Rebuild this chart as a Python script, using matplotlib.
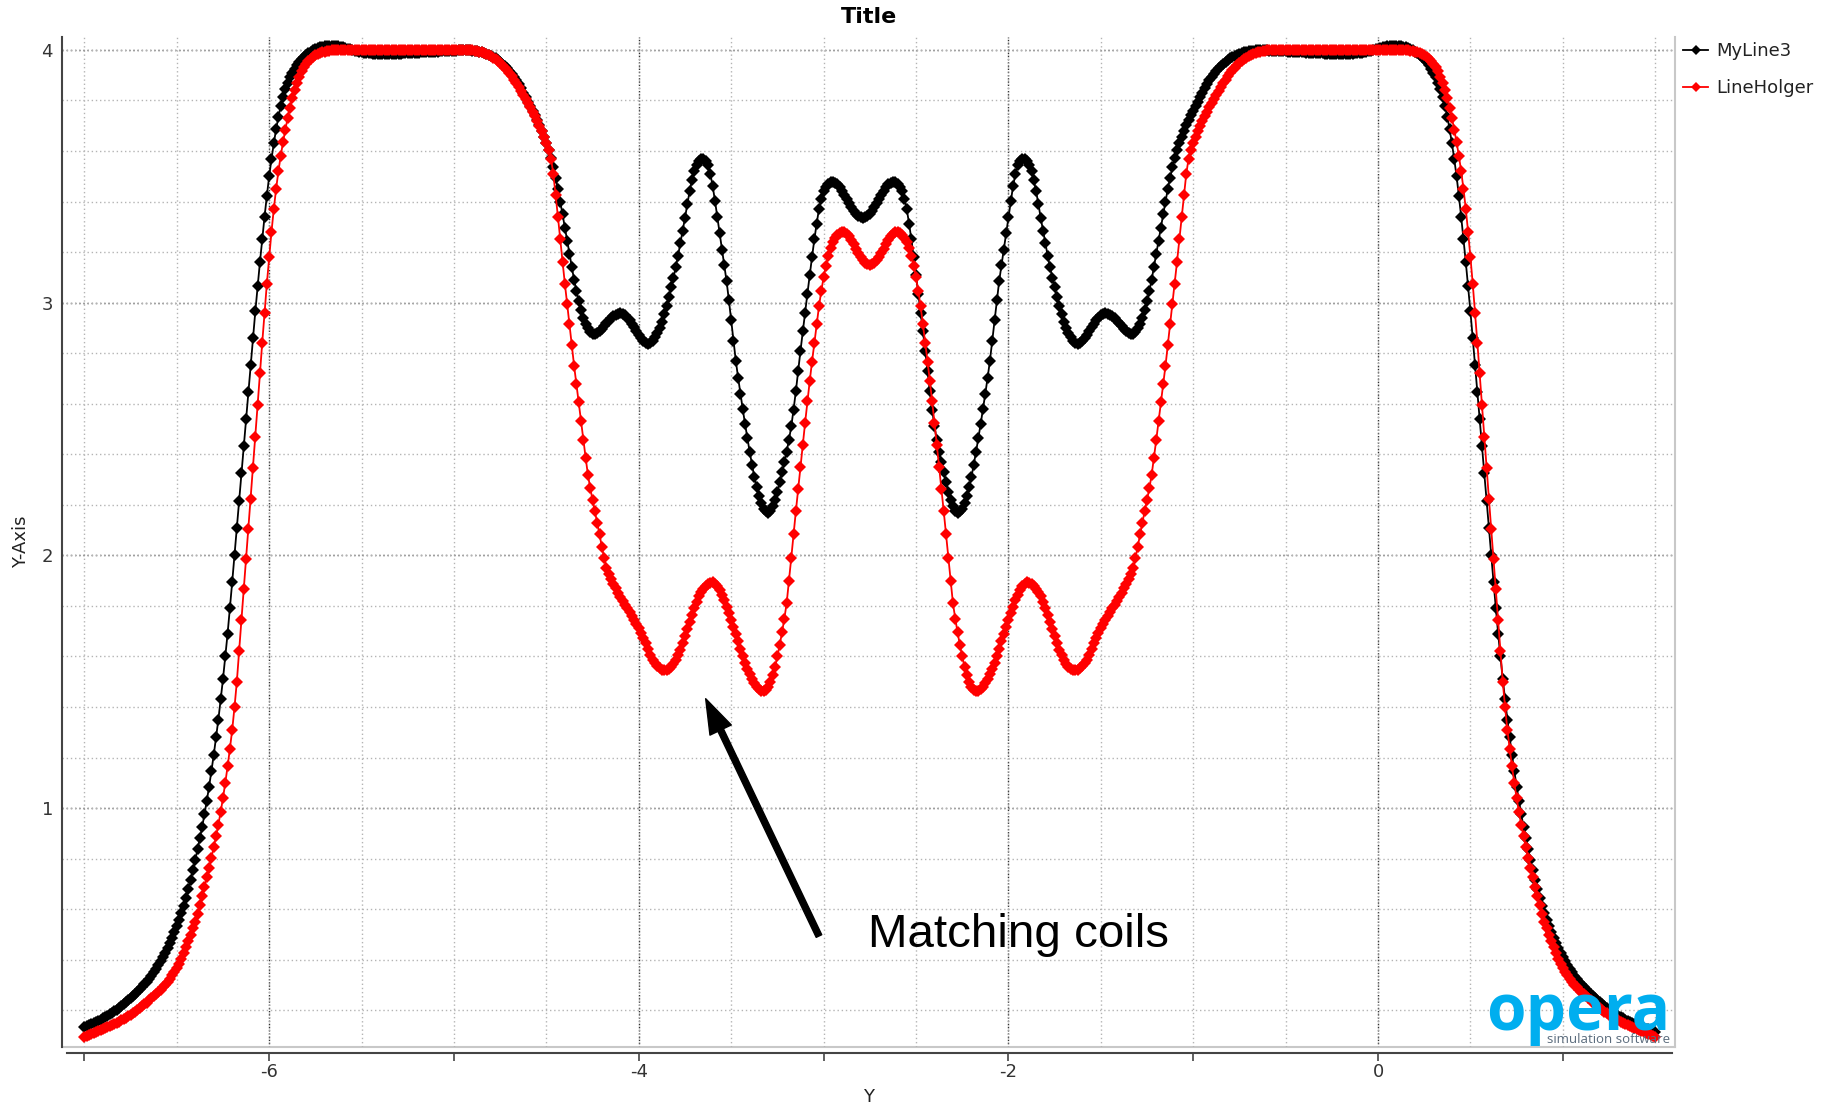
import numpy as np
import matplotlib
matplotlib.use("Agg")
import matplotlib.pyplot as plt
from matplotlib.ticker import MultipleLocator
from matplotlib.lines import Line2D

# Field profile along Y, sampled every 0.0125 starting at Y = -7.0
X_START = -7.0
X_STEP = 0.0125

my_line3 = [
    0.134, 0.137, 0.141, 0.145, 0.149, 0.153, 0.158, 0.163, 0.168, 0.173,
    0.178, 0.184, 0.190, 0.196, 0.203, 0.210, 0.217, 0.224, 0.232, 0.240,
    0.248, 0.256, 0.265, 0.274, 0.283, 0.293, 0.303, 0.314, 0.325, 0.337,
    0.350, 0.364, 0.378, 0.394, 0.410, 0.428, 0.446, 0.466, 0.487, 0.510,
    0.533, 0.559, 0.585, 0.614, 0.643, 0.679, 0.715, 0.755, 0.795, 0.837,
    0.880, 0.927, 0.975, 1.030, 1.085, 1.147, 1.210, 1.280, 1.350, 1.430,
    1.510, 1.600, 1.690, 1.792, 1.895, 2.002, 2.110, 2.217, 2.325, 2.432,
    2.540, 2.647, 2.755, 2.860, 2.965, 3.064, 3.160, 3.252, 3.340, 3.423,
    3.500, 3.568, 3.630, 3.686, 3.735, 3.778, 3.815, 3.845, 3.870, 3.892,
    3.910, 3.926, 3.940, 3.952, 3.962, 3.972, 3.980, 3.987, 3.993, 3.998,
    4.003, 4.007, 4.010, 4.012, 4.014, 4.015, 4.016, 4.016, 4.016, 4.015,
    4.014, 4.012, 4.010, 4.007, 4.005, 4.002, 4.000, 3.997, 3.995, 3.993,
    3.991, 3.989, 3.988, 3.987, 3.986, 3.985, 3.984, 3.983, 3.983, 3.983,
    3.983, 3.983, 3.983, 3.983, 3.984, 3.984, 3.985, 3.985, 3.986, 3.986,
    3.987, 3.987, 3.988, 3.988, 3.989, 3.989, 3.990, 3.990, 3.991, 3.991,
    3.992, 3.992, 3.993, 3.993, 3.994, 3.994, 3.995, 3.995, 3.996, 3.996,
    3.997, 3.997, 3.998, 3.998, 3.998, 3.998, 3.998, 3.998, 3.997, 3.996,
    3.995, 3.993, 3.991, 3.988, 3.985, 3.981, 3.977, 3.972, 3.967, 3.961,
    3.954, 3.946, 3.938, 3.928, 3.918, 3.906, 3.894, 3.880, 3.865, 3.848,
    3.830, 3.813, 3.795, 3.778, 3.760, 3.741, 3.722, 3.701, 3.680, 3.657,
    3.632, 3.603, 3.572, 3.535, 3.495, 3.449, 3.400, 3.349, 3.297, 3.245,
    3.192, 3.141, 3.090, 3.046, 3.005, 2.970, 2.940, 2.917, 2.898, 2.885,
    2.876, 2.876, 2.880, 2.887, 2.896, 2.907, 2.918, 2.928, 2.938, 2.946,
    2.952, 2.956, 2.958, 2.956, 2.950, 2.941, 2.930, 2.917, 2.902, 2.887,
    2.872, 2.859, 2.848, 2.841, 2.838, 2.841, 2.850, 2.863, 2.880, 2.901,
    2.925, 2.954, 2.985, 3.021, 3.060, 3.099, 3.140, 3.186, 3.235, 3.284,
    3.335, 3.389, 3.440, 3.484, 3.520, 3.543, 3.560, 3.568, 3.570, 3.562,
    3.545, 3.508, 3.460, 3.402, 3.340, 3.275, 3.210, 3.148, 3.085, 3.010,
    2.930, 2.849, 2.770, 2.703, 2.640, 2.579, 2.520, 2.464, 2.410, 2.359,
    2.310, 2.270, 2.235, 2.208, 2.185, 2.174, 2.168, 2.177, 2.195, 2.220,
    2.250, 2.289, 2.330, 2.370, 2.410, 2.457, 2.510, 2.577, 2.650, 2.730,
    2.810, 2.886, 2.960, 3.036, 3.110, 3.181, 3.250, 3.313, 3.370, 3.410,
    3.440, 3.458, 3.470, 3.476, 3.479, 3.475, 3.468, 3.456, 3.442, 3.426,
    3.410, 3.394, 3.378, 3.364, 3.352, 3.344, 3.338,
    3.336,
    3.338, 3.344, 3.352, 3.364, 3.378, 3.394, 3.410, 3.426, 3.442, 3.456,
    3.468, 3.475, 3.479, 3.476, 3.470, 3.458, 3.440,
    3.410, 3.370, 3.313, 3.250, 3.181, 3.110, 3.036, 2.960, 2.886, 2.810,
    2.730, 2.650, 2.577, 2.510, 2.457, 2.410, 2.370, 2.330, 2.289, 2.250,
    2.220, 2.195, 2.177, 2.168, 2.174, 2.185, 2.208, 2.235, 2.270, 2.310,
    2.359, 2.410, 2.464, 2.520, 2.579, 2.640, 2.703, 2.770, 2.849, 2.930,
    3.010, 3.085, 3.148, 3.210, 3.275, 3.340, 3.402, 3.460, 3.508, 3.545,
    3.562, 3.570, 3.568, 3.560, 3.543, 3.520, 3.484, 3.440, 3.389, 3.335,
    3.284, 3.235, 3.186, 3.140, 3.099, 3.060, 3.021, 2.985, 2.954, 2.925,
    2.901, 2.880, 2.863, 2.850, 2.841, 2.838, 2.841, 2.848, 2.859, 2.872,
    2.887, 2.902, 2.917, 2.930, 2.941, 2.950, 2.956, 2.958, 2.956, 2.952,
    2.946, 2.938, 2.928, 2.918, 2.907, 2.896, 2.887, 2.880, 2.876, 2.876,
    2.885, 2.898, 2.917, 2.940, 2.970, 3.005, 3.046, 3.090, 3.141, 3.192,
    3.245, 3.297, 3.349, 3.400, 3.449, 3.495, 3.535, 3.572, 3.603, 3.632,
    3.657, 3.680, 3.701, 3.722, 3.741, 3.760, 3.778, 3.795, 3.813, 3.830,
    3.848, 3.865, 3.880, 3.894, 3.906, 3.918, 3.928, 3.938, 3.946, 3.954,
    3.961, 3.967, 3.972, 3.977, 3.981, 3.985, 3.988, 3.991, 3.993, 3.995,
    3.996, 3.997, 3.998, 3.998, 3.998, 3.998, 3.998, 3.998, 3.997, 3.997,
    3.996, 3.996, 3.995, 3.995, 3.994, 3.994, 3.993, 3.993, 3.992, 3.992,
    3.991, 3.991, 3.990, 3.990, 3.989, 3.989, 3.988, 3.988, 3.987, 3.987,
    3.986, 3.986, 3.985, 3.985, 3.984, 3.984, 3.983, 3.983, 3.983, 3.983,
    3.983, 3.983, 3.983, 3.984, 3.985, 3.986, 3.987, 3.988, 3.989, 3.991,
    3.993, 3.995, 3.997, 4.000, 4.002, 4.005, 4.007, 4.010, 4.012, 4.014,
    4.015, 4.016, 4.016, 4.016, 4.015, 4.014, 4.012, 4.010, 4.007, 4.003,
    3.998, 3.993, 3.987, 3.980, 3.972, 3.962, 3.952, 3.940, 3.926, 3.910,
    3.892, 3.870, 3.845, 3.815, 3.778, 3.735, 3.686, 3.630, 3.568, 3.500,
    3.423, 3.340, 3.252, 3.160, 3.064, 2.965, 2.860, 2.755, 2.647, 2.540,
    2.432, 2.325, 2.217, 2.110, 2.002, 1.895, 1.792, 1.690, 1.600, 1.510,
    1.430, 1.350, 1.280, 1.210, 1.147, 1.085, 1.030, 0.975, 0.927, 0.880,
    0.837, 0.795, 0.755, 0.715, 0.679, 0.643, 0.614, 0.585, 0.559, 0.533,
    0.510, 0.487, 0.466, 0.446, 0.428, 0.410, 0.394, 0.378, 0.364, 0.350,
    0.337, 0.325, 0.314, 0.303, 0.293, 0.283, 0.274, 0.265, 0.256, 0.248,
    0.240, 0.232, 0.224, 0.217, 0.210, 0.203, 0.196, 0.190, 0.184, 0.178,
    0.173, 0.168, 0.163, 0.158, 0.153, 0.149, 0.145, 0.141, 0.137, 0.134,
    0.131, 0.128, 0.125, 0.122, 0.119, 0.116,
]

line_holger = [
    0.094, 0.098, 0.102, 0.106, 0.110, 0.114, 0.118, 0.122, 0.126, 0.130,
    0.134, 0.138, 0.142, 0.146, 0.150, 0.155, 0.160, 0.165, 0.170, 0.176,
    0.182, 0.188, 0.195, 0.202, 0.209, 0.216, 0.224, 0.231, 0.239, 0.247,
    0.255, 0.263, 0.272, 0.281, 0.291, 0.301, 0.312, 0.324, 0.338, 0.352,
    0.368, 0.385, 0.405, 0.427, 0.450, 0.475, 0.500, 0.524, 0.550, 0.581,
    0.615, 0.652, 0.690, 0.727, 0.765, 0.804, 0.845, 0.888, 0.935, 0.985,
    1.040, 1.100, 1.165, 1.235, 1.310, 1.400, 1.500, 1.620, 1.745, 1.866,
    1.985, 2.105, 2.225, 2.346, 2.470, 2.595, 2.720, 2.842, 2.960, 3.075,
    3.180, 3.280, 3.370, 3.450, 3.520, 3.581, 3.635, 3.685, 3.730, 3.772,
    3.810, 3.842, 3.870, 3.894, 3.915, 3.931, 3.945, 3.956, 3.965, 3.972,
    3.978, 3.983, 3.987, 3.990, 3.993, 3.995, 3.997, 3.998, 3.999, 4.000,
    4.000, 4.000, 4.000, 4.000, 4.000, 4.000, 4.000, 3.999, 3.999, 3.999,
    3.999, 3.999, 3.999, 3.998, 3.998, 3.998, 3.998, 3.998, 3.998, 3.998,
    3.998, 3.998, 3.998, 3.998, 3.998, 3.998, 3.998, 3.998, 3.998, 3.998,
    3.998, 3.998, 3.998, 3.998, 3.999, 3.999, 3.999, 3.999, 3.999, 3.999,
    3.999, 3.999, 3.999, 3.999, 4.000, 4.000, 4.000, 4.000, 4.000, 4.000,
    4.000, 4.000, 4.000, 4.000, 4.000, 4.000, 3.999, 3.999, 3.998, 3.997,
    3.995, 3.993, 3.990, 3.987, 3.983, 3.979, 3.974, 3.968, 3.962, 3.955,
    3.948, 3.939, 3.930, 3.919, 3.908, 3.895, 3.882, 3.869, 3.855, 3.839,
    3.822, 3.806, 3.790, 3.773, 3.756, 3.738, 3.720, 3.700, 3.678, 3.655,
    3.630, 3.603, 3.570, 3.510, 3.425, 3.340, 3.250, 3.162, 3.075, 2.995,
    2.915, 2.832, 2.750, 2.677, 2.605, 2.531, 2.457, 2.386, 2.318, 2.265,
    2.220, 2.174, 2.130, 2.083, 2.035, 1.990, 1.950, 1.926, 1.905, 1.887,
    1.870, 1.852, 1.835, 1.820, 1.805, 1.790, 1.775, 1.760, 1.745, 1.729,
    1.712, 1.694, 1.675, 1.652, 1.628, 1.607, 1.588, 1.574, 1.562, 1.554,
    1.547, 1.545, 1.545, 1.550, 1.558, 1.570, 1.585, 1.604, 1.625, 1.653,
    1.682, 1.710, 1.737, 1.764, 1.790, 1.815, 1.838, 1.855, 1.868, 1.879,
    1.888, 1.892, 1.893, 1.887, 1.878, 1.863, 1.845, 1.822, 1.797, 1.771,
    1.745, 1.718, 1.690, 1.660, 1.630, 1.602, 1.575, 1.551, 1.530, 1.511,
    1.495, 1.481, 1.470, 1.465, 1.463, 1.469, 1.480, 1.500, 1.525, 1.560,
    1.600, 1.646, 1.695, 1.750, 1.810, 1.898, 1.990, 2.083, 2.175, 2.263,
    2.350, 2.438, 2.525, 2.609, 2.690, 2.767, 2.840, 2.914, 2.985, 3.046,
    3.100, 3.146, 3.185, 3.215, 3.240, 3.256, 3.268, 3.276, 3.280, 3.278,
    3.272, 3.262, 3.248, 3.231, 3.212, 3.196, 3.180, 3.168, 3.158, 3.153,
    3.150,
    3.153, 3.158, 3.168, 3.180, 3.196, 3.212, 3.231, 3.248, 3.262, 3.272,
    3.278, 3.280, 3.276, 3.268, 3.256, 3.240, 3.215, 3.185, 3.146, 3.100,
    3.046, 2.985, 2.914, 2.840, 2.767, 2.690, 2.609, 2.525, 2.438, 2.350,
    2.263, 2.175, 2.083, 1.990, 1.898, 1.810, 1.750, 1.695, 1.646, 1.600,
    1.560, 1.525, 1.500, 1.480, 1.469, 1.463, 1.465, 1.470, 1.481, 1.495,
    1.511, 1.530, 1.551, 1.575, 1.602, 1.630, 1.660, 1.690, 1.718, 1.745,
    1.771, 1.797, 1.822, 1.845, 1.863, 1.878, 1.887, 1.893, 1.892, 1.888,
    1.879, 1.868, 1.855, 1.838, 1.815, 1.790, 1.764, 1.737, 1.710, 1.682,
    1.653, 1.625, 1.604, 1.585, 1.570, 1.558, 1.550, 1.545, 1.545, 1.547,
    1.554, 1.562, 1.574, 1.588, 1.607, 1.628, 1.652, 1.675, 1.694, 1.712,
    1.729, 1.745, 1.760, 1.775, 1.790, 1.805, 1.820, 1.835, 1.852, 1.870,
    1.887, 1.905, 1.926, 1.950, 1.990, 2.035, 2.083, 2.130, 2.174, 2.220,
    2.265, 2.318, 2.386, 2.457, 2.531, 2.605, 2.677, 2.750, 2.832, 2.915,
    2.995, 3.075, 3.162, 3.250, 3.340, 3.425, 3.510, 3.570, 3.603, 3.630,
    3.655, 3.678, 3.700, 3.720, 3.738, 3.756, 3.773, 3.790, 3.806, 3.822,
    3.839, 3.855, 3.869, 3.882, 3.895, 3.908, 3.919, 3.930, 3.939, 3.948,
    3.955, 3.962, 3.968, 3.974, 3.979, 3.983, 3.987, 3.990, 3.993, 3.995,
    3.997, 3.998, 3.999, 3.999, 4.000, 4.000, 4.000, 4.000, 4.000, 4.000,
    4.000, 4.000, 4.000, 4.000, 4.000, 4.000, 3.999, 3.999, 3.999, 3.999,
    3.999, 3.999, 3.999, 3.999, 3.999, 3.999, 3.998, 3.998, 3.998, 3.998,
    3.998, 3.998, 3.998, 3.998, 3.998, 3.998, 3.998, 3.998, 3.998, 3.998,
    3.998, 3.998, 3.998, 3.998, 3.998, 3.998, 3.998, 3.999, 3.999, 3.999,
    3.999, 3.999, 3.999, 4.000, 4.000, 4.000, 4.000, 4.000, 4.000, 4.000,
    4.000, 3.999, 3.998, 3.997, 3.995, 3.993, 3.990, 3.987, 3.983, 3.978,
    3.972, 3.965, 3.956, 3.945, 3.931, 3.915, 3.894, 3.870, 3.842, 3.810,
    3.772, 3.730, 3.685, 3.635, 3.581, 3.520, 3.450, 3.370, 3.280, 3.180,
    3.075, 2.960, 2.842, 2.720, 2.595, 2.470, 2.346, 2.225, 2.105, 1.985,
    1.866, 1.745, 1.620, 1.500, 1.400, 1.310, 1.235, 1.165, 1.100, 1.040,
    0.985, 0.935, 0.888, 0.845, 0.804, 0.765, 0.727, 0.690, 0.652, 0.615,
    0.581, 0.550, 0.524, 0.500, 0.475, 0.450, 0.427, 0.405, 0.385, 0.368,
    0.352, 0.338, 0.324, 0.312, 0.301, 0.291, 0.281, 0.272, 0.263, 0.255,
    0.247, 0.239, 0.231, 0.224, 0.216, 0.209, 0.202, 0.195, 0.188, 0.182,
    0.176, 0.170, 0.165, 0.160, 0.155, 0.150, 0.146, 0.142, 0.138, 0.134,
    0.130, 0.126, 0.122, 0.118, 0.114, 0.110, 0.106, 0.102, 0.098, 0.094,
]

series_names = ["MyLine3", "LineHolger"]
series_colors = ["#000000", "#ff0000"]

x_ticks = [-7, -6, -5, -4, -3, -2, -1, 0, 1]
x_tick_labels = ["", "-6", "", "-4", "", "-2", "", "0", ""]
y_ticks = [1, 2, 3, 4]
y_tick_labels = ["1", "2", "3", "4"]

x_black = X_START + X_STEP * np.arange(len(my_line3))
x_red = X_START + X_STEP * np.arange(len(line_holger))

W, H = 1835, 1108
fig = plt.figure(figsize=(W / 100, H / 100), dpi=100)
ax_l, ax_r, ax_t, ax_b = 62, 1675, 37, 1047
ax = fig.add_axes([ax_l / W, 1 - ax_b / H, (ax_r - ax_l) / W, (ax_b - ax_t) / H])

ax.set_xlim(-7.121, 1.607)
ax.set_ylim(0.055, 4.051)

# grid: light dotted every 0.5 / 0.2, dark dotted at labelled values
ax.xaxis.set_minor_locator(MultipleLocator(0.5))
ax.yaxis.set_minor_locator(MultipleLocator(0.2))
ax.xaxis.remove_overlapping_locs = False
ax.yaxis.remove_overlapping_locs = False
ax.grid(which="minor", color="#b4b4b4", linestyle=(0, (1, 2)), linewidth=1.0, zorder=0)
ax.grid(which="major", axis="y", color="#333333", linestyle=(0, (1, 2)), linewidth=1.0, zorder=0)
for xv, lab in zip(x_ticks, x_tick_labels):
    if lab:
        ax.axvline(xv, color="#333333", linestyle=(0, (1, 1.3)), linewidth=1.0, zorder=0)

ax.set_xticks(x_ticks)
ax.set_xticklabels(x_tick_labels)
ax.set_yticks(y_ticks)
ax.set_yticklabels(y_tick_labels)
for tk, lab in zip(ax.xaxis.get_major_ticks(), x_tick_labels):
    if lab:
        tk.tick1line.set_visible(False)
ax.tick_params(axis="x", which="major", direction="out", length=5.8, width=1.2,
               color="#444444", labelsize=13, labelcolor="#333333", pad=2.0)
ax.tick_params(axis="y", which="major", length=0, labelsize=13,
               labelcolor="#333333", pad=6.5)
ax.tick_params(which="minor", length=0)

ax.spines["top"].set_visible(False)
ax.spines["left"].set_color("#444444")
ax.spines["left"].set_linewidth(1.5)
ax.spines["right"].set_color("#c8c8c8")
ax.spines["right"].set_linewidth(1.5)
ax.spines["bottom"].set_color("#444444")
ax.spines["bottom"].set_linewidth(1.5)
ax.spines["bottom"].set_position(("outward", 4))
ax.spines["bottom"].set_bounds(-7.094, 1.591)
ax.add_line(Line2D([0, 1], [0, 0], transform=ax.transAxes, color="#c8c8c8",
                   linewidth=1.5, clip_on=False, zorder=1))

for xs, ys, name, col in zip([x_black, x_red], [my_line3, line_holger],
                             series_names, series_colors):
    ax.plot(xs, ys, color=col, linewidth=1.3, marker="D", markersize=6.2,
            markeredgewidth=0, label=name, zorder=3)

ax.set_title("Title", fontsize=16, fontweight="bold", pad=10)
ax.set_xlabel("Y", fontsize=13, color="#222222", labelpad=5)
ax.set_ylabel("Y-Axis", fontsize=13, color="#222222", labelpad=8.5)

# annotation pointing at the matching-coil dip
ax.annotate("", xy=(-3.638, 1.433), xytext=(-3.025, 0.494),
            arrowprops=dict(arrowstyle="simple,head_length=1.25,head_width=0.85,tail_width=0.22",
                            mutation_scale=20, color="black", shrinkA=0, shrinkB=0),
            zorder=5)
ax.text(-2.760, 0.4516, "Matching coils", fontsize=34.2, family="Liberation Sans",
        color="black", ha="left", va="baseline", zorder=5)

handles, labels = ax.get_legend_handles_labels()
fig.legend(handles, labels, loc="upper left", bbox_to_anchor=(1683 / W, 1 - 42 / H),
           frameon=False, fontsize=13, handlelength=1.4, handletextpad=0.45,
           labelspacing=1.05, borderpad=0, borderaxespad=0, labelcolor="#222222",
           markerscale=0.8)

# opera logo in the lower right corner of the plot
fig.text(1670 / W, 1 - 1030 / H, "opera", fontsize=46, fontweight="bold",
         family="Open Sans", color="#00aeef", ha="right", va="baseline", zorder=2)
fig.text(1670 / W, 1 - 1043 / H, "simulation software", fontsize=9.5,
         family="Open Sans", color="#5a6b7c", ha="right", va="baseline", zorder=2)

fig.savefig("out.png", dpi=100)
